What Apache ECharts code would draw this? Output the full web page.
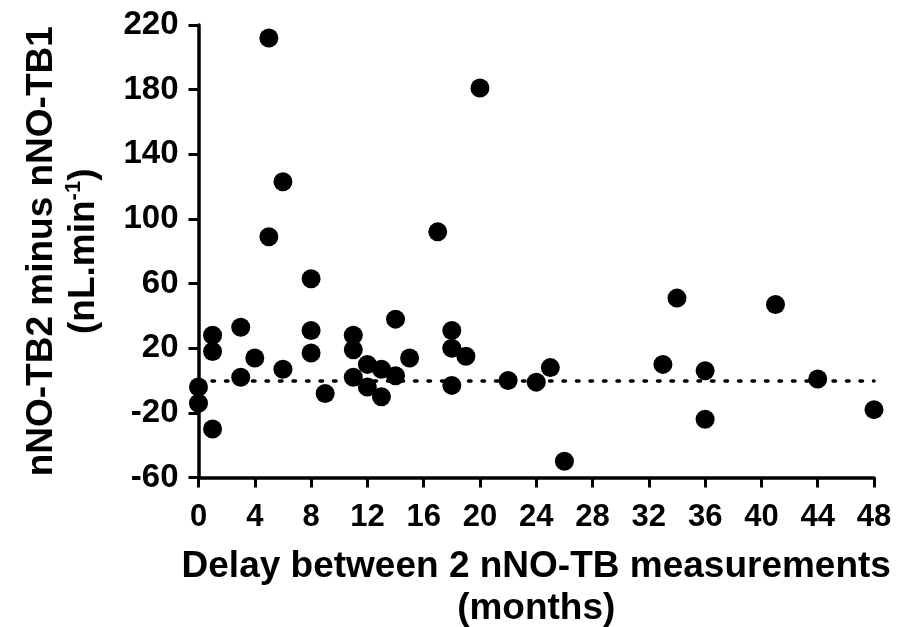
<!DOCTYPE html>
<html>
<head>
<meta charset="utf-8">
<script src="https://cdn.jsdelivr.net/npm/echarts@6/dist/echarts.min.js"></script>
<style>
html,body{margin:0;padding:0;background:#fff;}
#chart{width:899px;height:627px;}
</style>
</head>
<body>
<div id="chart"></div>
<script>
// Delay between measurements (months)
const delayMonths = [0, 0, 1, 1, 1, 3, 3, 4, 5, 5, 6, 6, 8, 8, 8, 9, 11, 11, 11, 12, 12, 13, 13, 14, 14, 15, 17, 18, 18, 18, 19, 20, 22, 24, 25, 26, 33, 34, 36, 36, 41, 44, 48];
// nNO-TB2 minus nNO-TB1 (nL.min-1)
const diffValues = [-4, -14, 28, 18, -30, 33, 2, 14, 212, 89, 123, 7, 63, 31, 17, -8, 28, 19, 2, 10, -4, 7, -10, 38, 3, 14, 92, 31, 20, -3, 15, 181, 0, -1, 8, -50, 10, 51, 6, -24, 47, 1, -18];
const xTicks = {min: 0, max: 48, step: 4};
const yTicks = {min: -60, max: 220, step: 40};
const zeroLine = 0;
const xTitle = 'Delay between 2 nNO-TB measurements\n(months)';
const yTitle = 'nNO-TB2 minus nNO-TB1\n(nL.min{sup|-1})';

const points = delayMonths.map((x, i) => [x, diffValues[i]]);
const FONT = '"Liberation Sans", Arial, Helvetica, sans-serif';

const chart = echarts.init(document.getElementById('chart'), null, {renderer: 'canvas'});
chart.setOption({
  animation: false,
  backgroundColor: '#ffffff',
  grid: {left: 198.5, right: 25, top: 25, bottom: 149.5, containLabel: false, outerBoundsMode: 'none'},
  xAxis: {
    type: 'value',
    min: xTicks.min, max: xTicks.max, interval: xTicks.step,
    axisLine: {show: true, onZero: false, lineStyle: {color: '#000', width: 3.5}},
    axisTick: {show: true, length: 10, lineStyle: {color: '#000', width: 3}},
    splitLine: {show: false},
    axisLabel: {color: '#000', fontFamily: FONT, fontWeight: 'bold', fontSize: 31, margin: 24},
    name: xTitle,
    nameLocation: 'middle',
    nameGap: 68,
    nameTextStyle: {color: '#000', fontFamily: FONT, fontWeight: 'bold', fontSize: 37, lineHeight: 42}
  },
  yAxis: {
    type: 'value',
    min: yTicks.min, max: yTicks.max, interval: yTicks.step,
    axisLine: {show: true, onZero: false, lineStyle: {color: '#000', width: 3.5}},
    axisTick: {show: true, length: 10, lineStyle: {color: '#000', width: 3}},
    splitLine: {show: false},
    axisLabel: {color: '#000', fontFamily: FONT, fontWeight: 'bold', fontSize: 33, margin: 20},
    name: yTitle,
    nameLocation: 'middle',
    nameRotate: 90,
    nameGap: 94,
    nameTextStyle: {
      color: '#000', fontFamily: FONT, fontWeight: 'bold', fontSize: 37, lineHeight: 42,
      rich: {
        sup: {color: '#000', fontFamily: FONT, fontWeight: 'bold', fontSize: 22, verticalAlign: 'top', lineHeight: 42, padding: [0, 0, 16, 0]}
      }
    }
  },
  series: [{
    type: 'scatter',
    data: points,
    symbol: 'circle',
    symbolSize: 19,
    itemStyle: {color: '#000', opacity: 1},
    markLine: {
      silent: true,
      symbol: ['none', 'none'],
      label: {show: false},
      lineStyle: {color: '#000', width: 3.5, type: [2.5, 11], cap: 'round'},
      data: [[{coord: [xTicks.min, zeroLine]}, {coord: [xTicks.max, zeroLine]}]]
    },
    z: 3
  }]
});
</script>
</body>
</html>
